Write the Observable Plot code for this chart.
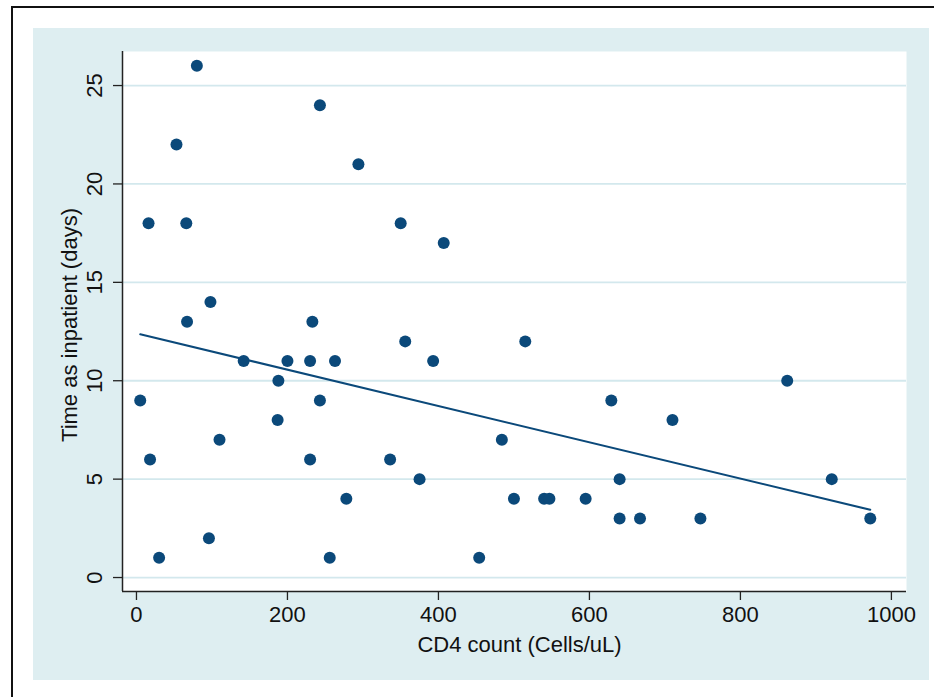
<!DOCTYPE html>
<html>
<head>
<meta charset="utf-8">
<script src="https://cdn.jsdelivr.net/npm/d3@7"></script>
<script src="https://cdn.jsdelivr.net/npm/@observablehq/plot@0.6"></script>
<style>
  html, body { margin: 0; padding: 0; background: #fff; overflow: hidden; }
  #wrap { position: relative; width: 934px; height: 697px; overflow: hidden; background: #fff; }
  #border { position: absolute; left: 11px; top: 6px; width: 1000px; height: 800px; border-left: 2.5px solid #111; border-top: 2.5px solid #111; }
  #region { position: absolute; left: 33px; top: 28px; width: 896px; height: 652px; background: #deeef1; }
  #chart { position: absolute; left: 0; top: 0; }
</style>
</head>
<body>
<div id="wrap">
  <div id="border"></div>
  <div id="region"></div>
  <div id="chart"></div>
</div>
<script>
// CD4 count (Cells/uL)
const cd4 = [5, 16, 18, 30, 53, 66, 67, 80, 96, 98, 110, 142, 187, 188, 200, 230, 230, 233, 243, 243,
             256, 263, 278, 294, 336, 350, 356, 375, 393, 407, 454, 484, 500, 515, 540, 547, 595, 629,
             640, 640, 667, 710, 747, 862, 921, 972];
// Time as inpatient (days)
const days = [9, 18, 6, 1, 22, 18, 13, 26, 2, 14, 7, 11, 8, 10, 11, 11, 6, 13, 24, 9,
              1, 11, 4, 21, 6, 18, 12, 5, 11, 17, 1, 7, 4, 12, 4, 4, 4, 9,
              5, 3, 3, 8, 3, 10, 5, 3];
// Fitted line end points
const fitX = [5, 972];
const fitY = [12.36, 3.44];
const xTicks = [0, 200, 400, 600, 800, 1000];
const yTicks = [0, 5, 10, 15, 20, 25];
const xTitle = "CD4 count (Cells/uL)";
const yTitle = "Time as inpatient (days)";
const xDomain = [-18.5, 1020];
const yDomain = [-0.71, 26.73];

const data = cd4.map((x, i) => ({x, y: days[i]}));
const fit = fitX.map((x, i) => ({x, y: fitY[i]}));
const navy = "#0b497a";
const axisColor = "#222";
const fs = 22;

const chart = Plot.plot({
  width: 934,
  height: 697,
  marginLeft: 122,
  marginTop: 51,
  marginRight: 28,
  marginBottom: 106,
  style: {background: "transparent", fontFamily: "'Liberation Sans', Arial, Helvetica, sans-serif", fontSize: fs + "px", color: "#111"},
  x: {domain: xDomain},
  y: {domain: yDomain},
  marks: [
    Plot.frame({fill: "white"}),
    Plot.gridY(yTicks, {stroke: "#d3e8ed", strokeOpacity: 1, strokeWidth: 1.8}),
    Plot.ruleX([xDomain[0]], {stroke: axisColor, strokeWidth: 1.5}),
    Plot.ruleY([yDomain[0]], {stroke: axisColor, strokeWidth: 1.5}),
    Plot.axisX({ticks: xTicks, tickSize: 9, tickPadding: 6, tickFormat: d => String(d), label: null, stroke: axisColor, strokeWidth: 1.3, fontSize: fs}),
    Plot.axisY({ticks: yTicks, tickSize: 9, tickFormat: () => "", label: null, stroke: axisColor, strokeWidth: 1.3}),
    Plot.text(yTicks, {y: d => d, text: d => String(d), frameAnchor: "left", rotate: -90, textAnchor: "middle", lineAnchor: "bottom", dx: -21, fontSize: fs, fill: "#111"}),
    Plot.text([xTitle], {frameAnchor: "bottom", text: d => d, dy: 60, dx: 5, fontSize: fs, fill: "#111"}),
    Plot.text([yTitle], {frameAnchor: "left", text: d => d, rotate: -90, textAnchor: "middle", lineAnchor: "bottom", dx: -46, dy: 3.5, fontSize: fs, fill: "#111"}),
    Plot.line(fit, {x: "x", y: "y", stroke: navy, strokeWidth: 2}),
    Plot.dot(data, {x: "x", y: "y", r: 6, fill: navy, stroke: "none"})
  ]
});
document.getElementById("chart").appendChild(chart);
</script>
</body>
</html>
